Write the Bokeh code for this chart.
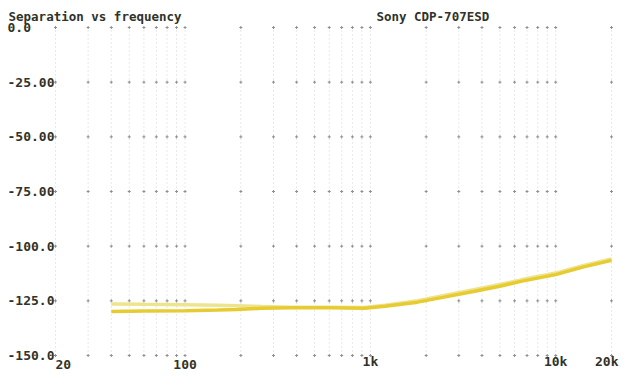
import math
from bokeh.plotting import figure
from bokeh.models import Range1d
from bokeh.core.properties import value
from bokeh.embed import file_html
from bokeh.resources import INLINE

# ---- data ----
freq = [40, 60, 100, 150, 190, 260, 370, 600, 930, 1200, 1800, 2500, 3600, 5000, 6500, 10000, 14000, 20000]
left_db = [-126.4, -126.6, -126.8, -127.0, -127.2, -127.6, -127.9, -127.9, -128.0, -127.0, -124.9, -122.5,
           -119.9, -117.5, -115.4, -112.3, -108.9, -105.8]
right_db = [-129.9, -129.6, -129.5, -129.2, -129.0, -128.4, -128.2, -128.2, -128.4, -127.5, -125.6, -123.3,
            -120.7, -118.3, -116.1, -113.0, -109.6, -106.5]

grid_freqs = [20, 30, 40, 50, 60, 70, 80, 90,
              100, 200, 300, 400, 500, 600, 700, 800, 900,
              1000, 2000, 3000, 4000, 5000, 6000, 7000, 8000, 9000,
              10000, 20000]
y_ticks = [0, -25, -50, -75, -100, -125, -150]
y_tick_labels = ["0.0", "-25.00", "-50.00", "-75.00", "-100.0", "-125.0", "-150.0"]
x_ticks = [20, 100, 1000, 10000, 20000]
x_tick_labels = ["20", "100", "1k", "10k", "20k"]
title_left = "Separation vs frequency"
title_right = "Sony CDP-707ESD"

# ---- layout (pixels inside the figure) ----
W, H = 619, 371
X20, X20K = 55, 611
Y0, Y150 = 27, 355
dec = (X20K - X20) / 3.0
xs = 10 ** (math.log10(20) - X20 / dec)
xe = 10 ** (math.log10(20) + (W - X20) / dec)
pxdb = (Y150 - Y0) / 150.0
ye = 0 + Y0 / pxdb
ys = -150 - (H - Y150) / pxdb

TXT = "#2f3329"
FONT = value("DejaVu Sans Mono")

p = figure(width=W, height=H, x_axis_type="log",
           x_range=Range1d(xs, xe), y_range=Range1d(ys, ye),
           output_backend="svg", toolbar_location=None,
           x_axis_location=None, y_axis_location=None,
           min_border=0, title=None)
p.outline_line_color = None
p.background_fill_color = "white"
p.border_fill_color = "white"
for g in p.grid:
    g.visible = False

# vertical dotted grid
n = len(grid_freqs)
p.segment(x0=grid_freqs, y0=[min(y_ticks)] * n, x1=grid_freqs, y1=[max(y_ticks)] * n,
          line_color="#c4c4c4", line_width=1, line_dash="1 3", line_alpha=0.75)

# small marks where levels cross grid lines
mx = [f for f in grid_freqs for t in y_ticks]
my = [t for f in grid_freqs for t in y_ticks]
p.scatter(x=mx, y=my, marker="cross", size=3, line_color="#8f8f8f", line_width=1)

# curves
p.line(freq, left_db, line_color="#efe48e", line_width=3.5)
p.line(freq, right_db, line_color="#e6cc32", line_width=3.5)

# y tick labels
p.text(x=[xs] * len(y_ticks), y=y_ticks, text=y_tick_labels, x_offset=7,
       text_align="left", text_baseline="middle", text_font=FONT,
       text_font_style="bold", text_font_size="13px", text_color=TXT)

# x tick labels (just under the bottom level)
common = dict(text_baseline="bottom", y_offset=-3, text_font=FONT, text_font_style="bold",
              text_font_size="13px", text_color=TXT)
p.text(x=x_ticks[:1], y=[ys], text=x_tick_labels[:1], text_align="left", **common)
p.text(x=x_ticks[1:-1], y=[ys] * (len(x_ticks) - 2), text=x_tick_labels[1:-1],
       text_align="center", **common)
p.text(x=x_ticks[-1:], y=[ys], text=x_tick_labels[-1:], text_align="right",
       x_offset=7, **common)

# titles
tcommon = dict(y_offset=8, text_baseline="top", text_align="left", text_font=FONT,
               text_font_style="bold", text_font_size="12.5px", text_color=TXT)
p.text(x=[xs], y=[ye], text=[title_left], x_offset=8, **tcommon)
p.text(x=[1000], y=[ye], text=[title_right], x_offset=6, **tcommon)

open("out.html", "w").write(file_html(p, INLINE))
